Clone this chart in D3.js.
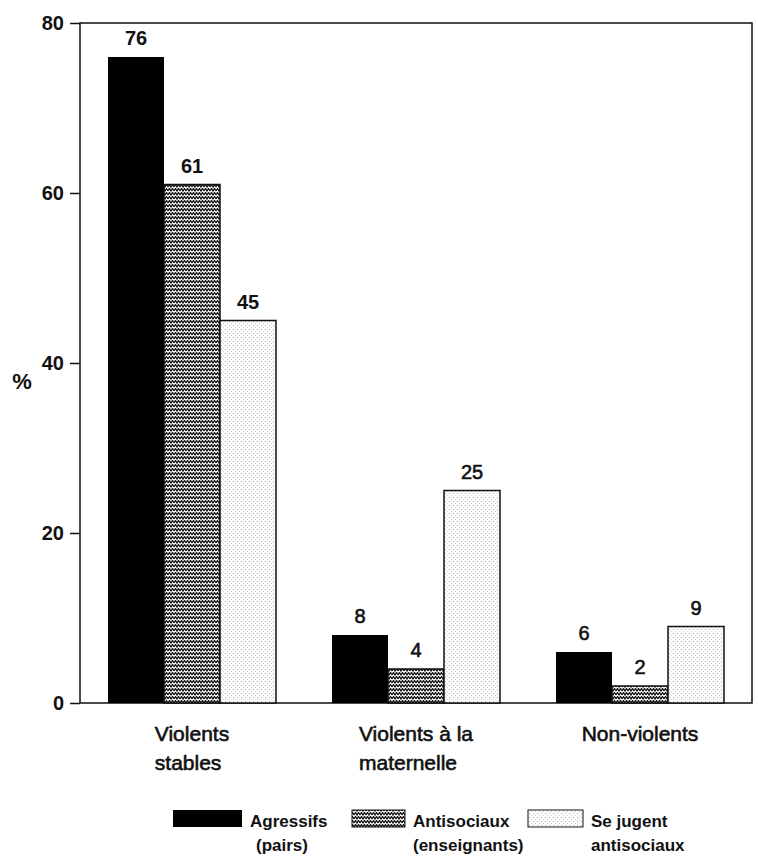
<!DOCTYPE html>
<html><head><meta charset="utf-8">
<script src="https://cdn.jsdelivr.net/npm/d3@7"></script>
<style>body{margin:0;background:#fff}svg{display:block}text{font-family:"Liberation Sans",Arial,sans-serif;fill:#111}</style>
</head><body>
<script>
const categories = [["Violents","stables"],["Violents à la","maternelle"],["Non-violents"]];
const series = ["Agressifs","Antisociaux","Se jugent"];
const legendLabels = [["Agressifs","(pairs)"],["Antisociaux","(enseignants)"],["Se jugent","antisociaux"]];
const agressifs = [76, 8, 6];
const antisociaux = [61, 4, 2];
const seJugent = [45, 25, 9];
const yTicks = [0, 20, 40, 60, 80];

const W = 758, H = 856;
const m = {l:80, r:6, t:23, b:153};
const svg = d3.select("body").append("svg").attr("width", W).attr("height", H);
const defs = svg.append("defs");
// zigzag hatch
const pz = defs.append("pattern").attr("id","zig").attr("patternUnits","userSpaceOnUse").attr("width",6).attr("height",4);
pz.append("rect").attr("width",6).attr("height",4).attr("fill","#fff");
pz.append("path").attr("d","M0,3 L1.5,0.5 L3,3 L4.5,0.5 L6,3").attr("fill","none").attr("stroke","#111").attr("stroke-width",1.3);
// dotted
const pd = defs.append("pattern").attr("id","dots").attr("patternUnits","userSpaceOnUse").attr("width",4).attr("height",4);
pd.append("rect").attr("width",4).attr("height",4).attr("fill","#fbfbfb");
pd.append("rect").attr("x",1).attr("y",1).attr("width",1).attr("height",1).attr("fill","#bbb");
pd.append("rect").attr("x",3).attr("y",3).attr("width",1).attr("height",1).attr("fill","#d4d4d4");

const fills = ["#000","url(#zig)","url(#dots)"];
const values = [agressifs, antisociaux, seJugent];

const x0 = d3.scaleBand().domain(d3.range(categories.length)).range([m.l, W-m.r]).paddingInner(0.25).paddingOuter(0.125);
const x1 = d3.scaleBand().domain(d3.range(series.length)).range([0, x0.bandwidth()]);
const y = d3.scaleLinear().domain([0,80]).range([H-m.b, m.t]);

// frame
svg.append("rect").attr("x",m.l).attr("y",m.t).attr("width",W-m.r-m.l).attr("height",H-m.b-m.t).attr("fill","none").attr("stroke","#111").attr("stroke-width",1.5);

// axis
const ax = svg.append("g").attr("transform",`translate(${m.l},0)`).call(d3.axisLeft(y).tickValues(yTicks).tickSize(10).tickPadding(6));
ax.select(".domain").remove();
ax.selectAll("line").attr("stroke","#111").attr("stroke-width",1.5);
ax.selectAll("text").style("font-size","20px").style("font-weight","bold").attr("fill","#111");

svg.append("text").attr("x",22).attr("y",389).attr("text-anchor","middle").style("font-size","22px").style("font-weight","bold").text("%");

const medium = sel => sel.attr("stroke","#111").attr("stroke-width",0.6).style("paint-order","stroke");

// bars
categories.forEach((c, ci) => {
  const g = svg.append("g").attr("transform",`translate(${x0(ci)},0)`);
  values.forEach((vals, si) => {
    const v = vals[ci];
    g.append("rect").attr("x",x1(si)).attr("y",y(v)).attr("width",x1.bandwidth()).attr("height",y(0)-y(v))
      .attr("fill",fills[si]).attr("stroke","#111").attr("stroke-width",si===0?0:1.5);
    const lt = g.append("text").attr("x",x1(si)+x1.bandwidth()/2).attr("y",y(v)-12).attr("text-anchor","middle")
      .style("font-size","20px").style("font-weight", ci===0?"bold":"normal").text(v);
    if (ci !== 0) medium(lt);
  });
  // category label: first line centered, following lines left-aligned with it
  const cx = x0(ci)+x0.bandwidth()/2;
  const t = svg.append("text").style("font-size","21px").attr("y",741);
  medium(t);
  t.append("tspan").text(c[0]);
  const w = t.node().getComputedTextLength();
  t.selectAll("tspan").attr("x", cx - w/2);
  c.slice(1).forEach((line) => {
    t.append("tspan").attr("x", cx - w/2).attr("dy", 29).text(line);
  });
});

// legend
const legX = [173, 352, 528];
const legW = [69, 53, 55];
legendLabels.forEach((l, i) => {
  svg.append("rect").attr("x",legX[i]).attr("y",810).attr("width",legW[i]).attr("height",17)
    .attr("fill",fills[i]).attr("stroke","#111").attr("stroke-width",i===0?0:1);
  const tx = legX[i]+legW[i]+8;
  svg.append("text").attr("x",tx).attr("y",827).style("font-size","17px").style("font-weight","bold").text(l[0]);
  svg.append("text").attr("x",tx+(i===0?6:0)).attr("y",851).style("font-size","17px").style("font-weight","bold").text(l[1]);
});
</script>
</body></html>
